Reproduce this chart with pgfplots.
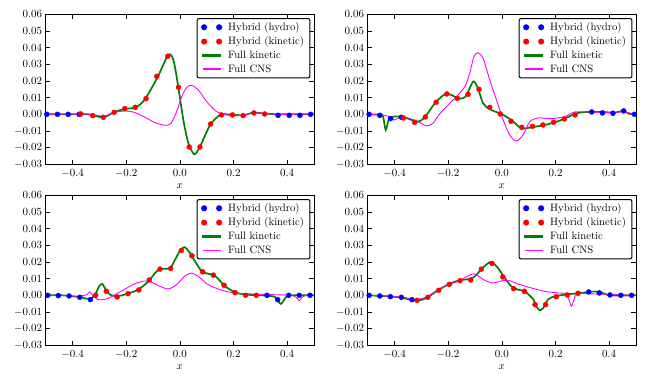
\documentclass[border=0pt]{standalone}
\usepackage{pgfplots}
\pgfplotsset{compat=1.18}
\definecolor{mplgreen}{rgb}{0,0.5,0}
\definecolor{mplmag}{rgb}{1,0,1}

\pgfplotsset{
  panel/.style={
    scale only axis, width=268.3pt, height=150pt,
    xmin=-0.5, xmax=0.5, ymin=-0.03, ymax=0.06,
    xtick={-0.4,-0.2,0,0.2,0.4},
    ytick={-0.03,-0.02,-0.01,0,0.01,0.02,0.03,0.04,0.05,0.06},
    tick align=inside, major tick length=4.5pt,
    tick style={black, line width=0.6pt},
    axis line style={line width=0.9pt},
    scaled x ticks=false, scaled y ticks=false,
    xticklabel style={/pgf/number format/fixed, /pgf/number format/fixed zerofill, /pgf/number format/precision=1, yshift=-1.5pt},
    yticklabel style={/pgf/number format/fixed, /pgf/number format/fixed zerofill, /pgf/number format/precision=2},
    ticklabel style={font=\fontsize{11.3}{13}\selectfont},
    xlabel={$x$}, xlabel style={font=\fontsize{10.5}{12}\selectfont},
    legend cell align=left,
    legend style={at={(1,1)}, anchor=north east, xshift=-3.5pt, yshift=-3.7pt,
      draw=black, line width=1pt, rounded corners=2pt, fill=white,
      font=\fontsize{10.7}{12}\selectfont, inner xsep=4pt, inner ysep=2pt,
      row sep=0.8pt, column sep=4pt},
  },
  dots/.style={only marks, mark=*, mark size=2.5pt, color=#1, mark options={draw=none, fill=#1},
    legend image code/.code={\fill[#1] (0pt,0pt) circle (2.5pt) (15pt,0pt) circle (2.5pt);}},
  kin/.style={no marks, smooth, tension=0.45, color=mplgreen, line width=1.7pt,
    legend image code/.code={\fill[mplgreen, sharp corners] (-1pt,-0.85pt) rectangle (16pt,0.85pt);}},
  cns/.style={no marks, smooth, tension=0.45, color=mplmag, line width=0.9pt,
    legend image code/.code={\fill[mplmag, sharp corners] (-1pt,-0.45pt) rectangle (16pt,0.45pt);}},
}

\begin{document}
\begin{tikzpicture}
\useasboundingbox (0,0) rectangle (646pt,382pt);

% ---- top left
\begin{axis}[panel, at={(45.7pt,217.7pt)}, anchor=south west]
\addplot[dots=blue] coordinates {(-0.496,0) (-0.456,0) (-0.416,0) (-0.375,0) (0.366,-0.0006) (0.4075,-0.0006) (0.4475,-0.0006) (0.4875,0)};
\addplot[dots=red] coordinates {(-0.369,0.0002) (-0.325,-0.0008) (-0.285,-0.0018) (-0.245,0.0012) (-0.205,0.0034) (-0.166,0.0042) (-0.126,0.0094) (-0.086,0.0228) (-0.045,0.0348) (-0.005,0.0162) (0.035,-0.0196) (0.075,-0.0196) (0.115,-0.0058) (0.155,-0.0004) (0.196,-0.0004) (0.236,-0.0008) (0.276,0.0008) (0.316,0.0002)};
\addplot[kin] coordinates {(-0.5,0) (-0.4,0) (-0.342,0) (-0.285,-0.0018) (-0.241,0.0016) (-0.204,0.0032) (-0.164,0.0042) (-0.130,0.009) (-0.082,0.0226) (-0.043,0.0356) (-0.024,0.0326) (-0.006,0.0166) (0.013,-0.0034) (0.032,-0.0174) (0.054,-0.024) (0.075,-0.0194) (0.113,-0.0064) (0.150,-0.0004) (0.193,-0.0002) (0.237,-0.0006) (0.274,0.001) (0.318,0.0004) (0.367,0) (0.43,0) (0.5,0)};
\addplot[cns] coordinates {(-0.5,0) (-0.4,0) (-0.33,0) (-0.285,-0.0012) (-0.248,0.001) (-0.204,0.002) (-0.167,0.001) (-0.130,-0.0018) (-0.093,-0.005) (-0.055,-0.0066) (-0.033,-0.0054) (-0.012,0.0016) (0.007,0.0106) (0.026,0.0162) (0.044,0.0174) (0.069,0.0146) (0.100,0.0076) (0.137,0.0016) (0.168,-0.0002) (0.205,-0.0008) (0.243,-0.0004) (0.274,0.001) (0.318,0.0004) (0.37,0) (0.43,0) (0.5,0)};
\legend{Hybrid (hydro), Hybrid (kinetic), Full kinetic, Full CNS}
\end{axis}

% ---- top right
\begin{axis}[panel, at={(367.7pt,217.7pt)}, anchor=south west]
\addplot[dots=blue] coordinates {(-0.495,0) (-0.455,-0.0006) (-0.415,-0.0026) (-0.3745,-0.0018) (0.335,0.0014) (0.375,0.0008) (0.414,0.0006) (0.454,0.002) (0.494,0)};
\addplot[dots=red] coordinates {(-0.367,-0.0022) (-0.325,-0.0048) (-0.285,-0.0016) (-0.245,0.0072) (-0.205,0.0122) (-0.166,0.0096) (-0.126,0.012) (-0.085,0.015) (-0.045,0.0042) (-0.006,0.0002) (0.034,-0.0042) (0.074,-0.0078) (0.114,-0.0072) (0.153,-0.0064) (0.193,-0.0048) (0.233,-0.0028) (0.273,-0.0004)};
\addplot[kin] coordinates {(-0.5,0) (-0.455,-0.0002) (-0.443,-0.001) (-0.433,-0.0094) (-0.421,-0.003) (-0.405,-0.0014) (-0.374,-0.0014) (-0.343,-0.003) (-0.312,-0.0044) (-0.287,-0.0018) (-0.250,0.0066) (-0.213,0.012) (-0.188,0.0116) (-0.163,0.0094) (-0.138,0.0102) (-0.120,0.0156) (-0.105,0.0198) (-0.089,0.0156) (-0.070,0.0066) (-0.045,0.003) (-0.002,0.0002) (0.035,-0.0034) (0.073,-0.0084) (0.110,-0.0078) (0.160,-0.0064) (0.197,-0.0048) (0.234,-0.0026) (0.278,0.0006) (0.321,0.0014) (0.371,0.0014) (0.421,0.001) (0.452,0.002) (0.477,0.0002) (0.5,0)};
\addplot[cns] coordinates {(-0.5,0) (-0.438,-0.0006) (-0.412,-0.0018) (-0.400,-0.0034) (-0.381,-0.0018) (-0.350,-0.0022) (-0.312,-0.0044) (-0.281,-0.007) (-0.257,-0.0054) (-0.232,0.0002) (-0.194,0.0066) (-0.163,0.0116) (-0.138,0.0166) (-0.120,0.0246) (-0.104,0.0346) (-0.089,0.037) (-0.070,0.0336) (-0.045,0.0206) (-0.020,0.0086) (0.005,-0.0034) (0.029,-0.0124) (0.054,-0.016) (0.079,-0.0124) (0.104,-0.0044) (0.135,-0.0022) (0.185,-0.0026) (0.234,-0.0014) (0.272,0.0014) (0.321,0.0014) (0.396,0.001) (0.452,0.0014) (0.5,0)};
\legend{Hybrid (hydro), Hybrid (kinetic), Full kinetic, Full CNS}
\end{axis}

% ---- bottom left
\begin{axis}[panel, at={(45.7pt,36.7pt)}, anchor=south west]
\addplot[dots=blue] coordinates {(-0.4925,0) (-0.453,-0.0002) (-0.413,-0.0004) (-0.373,-0.0012) (-0.3335,-0.0026) (0.325,0) (0.3646,-0.0026) (0.4056,0) (0.445,0) (0.485,0)};
\addplot[dots=red] coordinates {(-0.3137,0) (-0.274,0.0024) (-0.234,-0.001) (-0.193,0.001) (-0.153,0.0032) (-0.1137,0.0092) (-0.074,0.0157) (-0.034,0.0161) (0.0056,0.0269) (0.045,0.0237) (0.085,0.0141) (0.125,0.0121) (0.1646,0.006) (0.2056,0.0016) (0.245,0) (0.285,0)};
\addplot[kin] coordinates {(-0.5,0) (-0.44,0) (-0.378,-0.001) (-0.335,-0.0022) (-0.316,0.0004) (-0.301,0.0054) (-0.289,0.0068) (-0.276,0.0034) (-0.260,0.0004) (-0.235,-0.0006) (-0.198,0.0008) (-0.155,0.0034) (-0.117,0.0084) (-0.092,0.0134) (-0.074,0.0157) (-0.037,0.0163) (-0.018,0.0213) (0.001,0.0269) (0.017,0.0289) (0.034,0.0263) (0.057,0.0203) (0.082,0.0143) (0.106,0.0129) (0.131,0.0117) (0.169,0.0054) (0.206,0.0018) (0.243,0.0004) (0.305,0) (0.355,-0.001) (0.376,-0.0052) (0.398,-0.0006) (0.423,0) (0.5,0)};
\addplot[cns] coordinates {(-0.5,0) (-0.44,0) (-0.378,-0.0006) (-0.347,0.0004) (-0.335,0.002) (-0.322,-0.0006) (-0.304,-0.0026) (-0.273,-0.0022) (-0.241,0.0004) (-0.204,0.0038) (-0.167,0.007) (-0.130,0.0086) (-0.105,0.0078) (-0.074,0.0054) (-0.043,0.0038) (-0.012,0.0064) (0.019,0.0117) (0.044,0.0133) (0.069,0.0113) (0.106,0.0064) (0.156,0.003) (0.206,0.0014) (0.268,0.0008) (0.343,0.0004) (0.417,0) (0.436,-0.0016) (0.446,-0.0032) (0.457,-0.001) (0.473,0) (0.5,0)};
\legend{Hybrid (hydro), Hybrid (kinetic), Full kinetic, Full CNS}
\end{axis}

% ---- bottom right
\begin{axis}[panel, at={(367.7pt,36.7pt)}, anchor=south west]
\addplot[dots=blue] coordinates {(-0.495,0) (-0.455,-0.0004) (-0.4155,-0.0008) (-0.3745,-0.0012) (-0.335,-0.0026) (0.3236,0.002) (0.3633,0.0014) (0.403,0.0002) (0.4435,0) (0.4838,0)};
\addplot[dots=red] coordinates {(-0.316,-0.003) (-0.276,-0.0012) (-0.2354,0.003) (-0.1957,0.0066) (-0.156,0.0088) (-0.116,0.0092) (-0.0764,0.0157) (-0.0366,0.0191) (0.004,0.011) (0.044,0.004) (0.084,0.0024) (0.1236,-0.0056) (0.163,-0.0056) (0.203,-0.0008) (0.244,0.0002) (0.284,0.0012)};
\addplot[kin] coordinates {(-0.5,0) (-0.424,-0.0006) (-0.375,-0.0014) (-0.319,-0.0032) (-0.281,-0.0016) (-0.238,0.003) (-0.194,0.007) (-0.157,0.009) (-0.120,0.0098) (-0.101,0.0113) (-0.076,0.0157) (-0.051,0.0193) (-0.037,0.0199) (-0.014,0.0163) (0.008,0.011) (0.035,0.0054) (0.060,0.0034) (0.085,0.0024) (0.116,-0.0022) (0.129,-0.0066) (0.141,-0.009) (0.154,-0.0076) (0.172,-0.0026) (0.197,-0.0006) (0.247,0.0006) (0.296,0.0014) (0.334,0.0022) (0.365,0.002) (0.396,0.0002) (0.446,-0.0002) (0.5,0)};
\addplot[cns] coordinates {(-0.5,0) (-0.375,-0.001) (-0.325,-0.0026) (-0.281,-0.001) (-0.238,0.0034) (-0.200,0.0062) (-0.163,0.0084) (-0.132,0.011) (-0.107,0.0129) (-0.089,0.0117) (-0.064,0.009) (-0.033,0.0074) (-0.002,0.0086) (0.023,0.009) (0.060,0.0068) (0.110,0.0044) (0.160,0.0024) (0.209,0.0014) (0.240,0.001) (0.250,-0.0026) (0.259,-0.0066) (0.269,-0.0026) (0.281,0.001) (0.346,0.0008) (0.446,0.0004) (0.5,0)};
\legend{Hybrid (hydro), Hybrid (kinetic), Full kinetic, Full CNS}
\end{axis}
\end{tikzpicture}
\end{document}
